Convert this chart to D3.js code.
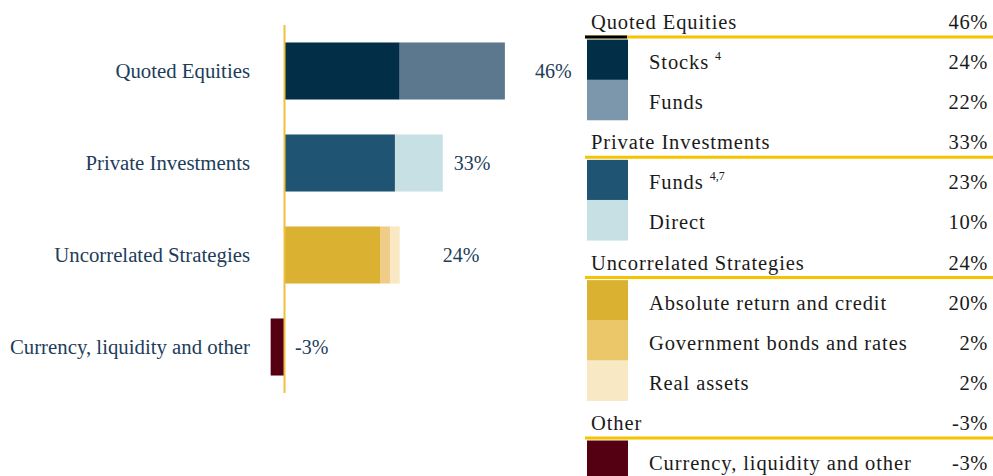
<!DOCTYPE html>
<html>
<head>
<meta charset="utf-8">
<script src="https://cdn.jsdelivr.net/npm/d3@7"></script>
<style>
  body { margin: 0; background: #fff; }
  svg text { font-family: 'Liberation Serif', 'DejaVu Serif', serif; }
</style>
</head>
<body>
<div id="chart"></div>
<script>
// bar categories (left) and legend groups (right)
const categories = ['Quoted Equities', 'Private Investments', 'Uncorrelated Strategies', 'Currency, liquidity and other']
const groupNames = ['Quoted Equities', 'Private Investments', 'Uncorrelated Strategies', 'Other']
const groupTotals = [46, 33, 24, -3]

// segments, in stacking order
const segNames = ['Stocks', 'Funds', 'Funds', 'Direct', 'Absolute return and credit', 'Government bonds and rates', 'Real assets', 'Currency, liquidity and other']
const segGroup = [0, 0, 1, 1, 2, 2, 2, 3]
const segValues = [24, 22, 23, 10, 20, 2, 2, -3]
const segNotes = ['4', '', '4,7', '', '', '', '', '']

// colours
const barColors = ['#022e48', '#5c788f', '#1f5573', '#c6e0e4', '#dbb132', '#efcc88', '#f8e8c4', '#540012']
const swatchColors = ['#022e48', '#7c97ac', '#1f5573', '#c6e0e4', '#dbb132', '#ebc76a', '#f8e8c4', '#540012']

// label gaps after bar end (layout only)
const labelGap = [30, 11, 43, 10]

const width = 993
const height = 476

const svg = d3.select('#chart')
  .append('svg')
  .attr('width', width)
  .attr('height', height)

const xPositionScale = d3.scaleLinear().domain([0, 50]).range([285, 524])
const yPositionScale = d3.scaleBand()
  .domain(categories)
  .range([25, 393])
  .paddingInner(0.38)
  .paddingOuter(0.19)

// stack segments
const segs = []
const cum = [0, 0, 0, 0]
segValues.forEach(function(v, i) {
  const g = segGroup[i]
  const start = cum[g]
  cum[g] += v
  segs.push({ i: i, g: g, x0: Math.min(start, cum[g]), x1: Math.max(start, cum[g]) })
})

svg.selectAll('.bar')
  .data(segs)
  .enter()
  .append('rect')
  .attr('class', 'bar')
  .attr('x', d => xPositionScale(d.x0))
  .attr('width', d => xPositionScale(d.x1) - xPositionScale(d.x0))
  .attr('y', d => yPositionScale(categories[d.g]))
  .attr('height', yPositionScale.bandwidth())
  .attr('fill', d => barColors[d.i])

// zero line
svg.append('line')
  .attr('x1', xPositionScale(0) - 0.5)
  .attr('x2', xPositionScale(0) - 0.5)
  .attr('y1', 25)
  .attr('y2', 393)
  .attr('stroke', '#efc040')
  .attr('stroke-width', 2)

// category labels
svg.selectAll('.cat')
  .data(categories)
  .enter()
  .append('text')
  .attr('class', 'cat')
  .attr('x', 250)
  .attr('y', d => yPositionScale(d) + yPositionScale.bandwidth() / 2)
  .attr('dy', '0.35em')
  .attr('text-anchor', 'end')
  .attr('font-size', '20.8px')
  .attr('fill', '#1d3d5a')
  .text(d => d)

// value labels
svg.selectAll('.val')
  .data(groupTotals)
  .enter()
  .append('text')
  .attr('class', 'val')
  .attr('x', (d, i) => xPositionScale(Math.max(d, 0)) + labelGap[i])
  .attr('y', (d, i) => yPositionScale(categories[i]) + yPositionScale.bandwidth() / 2)
  .attr('dy', '0.35em')
  .attr('font-size', '20px')
  .attr('fill', '#1d3d5a')
  .text(d => d + '%')

// legend table
const rows = []
groupNames.forEach(function(name, g) {
  rows.push({ header: true, g: g, name: name, value: groupTotals[g] })
  segNames.forEach(function(n, i) {
    if (segGroup[i] === g) rows.push({ header: false, i: i, name: n, value: segValues[i], note: segNotes[i] })
  })
})

const rowY = d3.scaleLinear().domain([0, rows.length - 1]).range([29, 470])

const legend = svg.append('g').attr('class', 'legend')

rows.forEach(function(r, k) {
  const y = rowY(k)
  if (r.header) {
    legend.append('line')
      .attr('x1', 585).attr('x2', 993)
      .attr('y1', y + 8).attr('y2', y + 8)
      .attr('stroke', '#f5c400')
      .attr('stroke-width', 3)
    if (k === 0) {
      legend.append('line')
        .attr('x1', 585).attr('x2', 627)
        .attr('y1', y + 8).attr('y2', y + 8)
        .attr('stroke', '#000')
        .attr('stroke-width', 3)
    }
    legend.append('text')
      .attr('x', 591).attr('y', y)
      .attr('font-size', '20.5px')
      .attr('letter-spacing', '0.9px')
      .attr('fill', '#1a1a1a')
      .text(r.name)
  } else {
    legend.append('rect')
      .attr('x', 587).attr('width', 41)
      .attr('y', y - 29.5).attr('height', 40.6)
      .attr('fill', swatchColors[r.i])
    const t = legend.append('text')
      .attr('x', 649).attr('y', y)
      .attr('font-size', '20.5px')
      .attr('letter-spacing', '0.9px')
      .attr('fill', '#1a1a1a')
      .text(r.name)
    if (r.note) {
      t.append('tspan').text(' ')
      t.append('tspan')
        .attr('dy', -9)
        .attr('font-size', '12px')
        .attr('letter-spacing', '0px')
        .text(r.note)
    }
  }
  legend.append('text')
    .attr('x', 988).attr('y', y)
    .attr('text-anchor', 'end')
    .attr('font-size', '20.5px')
    .attr('letter-spacing', '0.6px')
    .attr('fill', '#1a1a1a')
    .text(r.value + '%')
})
</script>
</body>
</html>
